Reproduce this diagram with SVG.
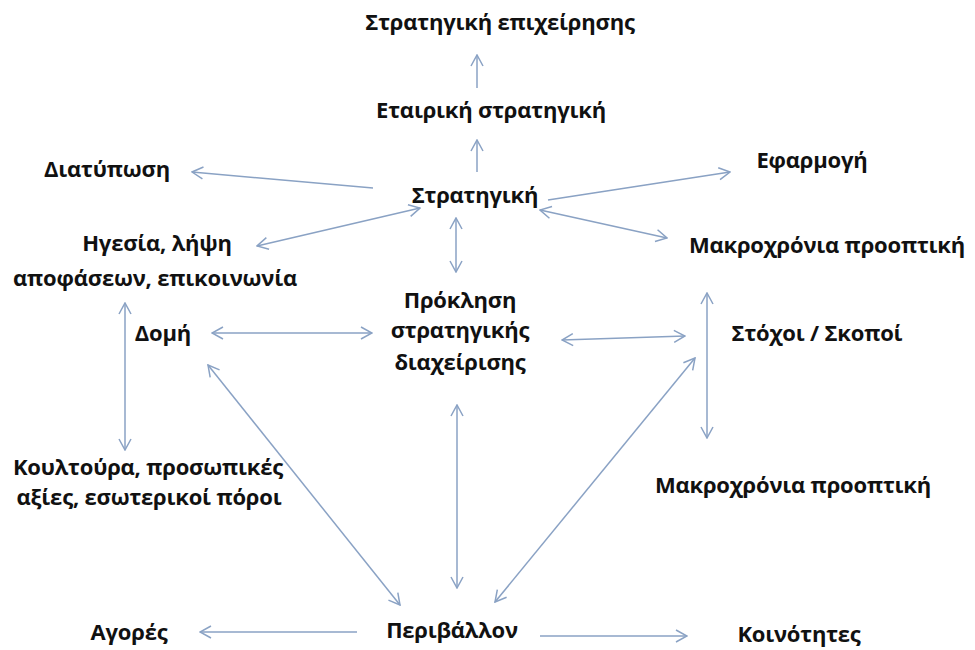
<svg xmlns="http://www.w3.org/2000/svg" width="975" height="650" viewBox="0 0 975 650">
<style>
text{font-family:"Open Sans","Noto Sans","Liberation Sans",sans-serif;font-weight:700;font-size:22px;fill:#111;text-anchor:middle;letter-spacing:-0.2px}
.c{stroke:#8aa2c4;stroke-width:1.5;fill:none;marker-end:url(#ah)}
.d{marker-start:url(#ah)}
</style>
<defs>
<marker id="ah" markerUnits="userSpaceOnUse" markerWidth="14" markerHeight="14" viewBox="0 0 14 14" refX="13" refY="7" orient="auto-start-reverse">
<path d="M2,1 L13,7 L2,13" fill="none" stroke="#8aa2c4" stroke-width="1.5"/>
</marker>
</defs>
<rect width="975" height="650" fill="#fff"/>
<g id="connectors">
<line class="c" x1="477" y1="88" x2="477" y2="55"/>
<line class="c" x1="477" y1="172" x2="477" y2="140"/>
<line class="c" x1="373" y1="188" x2="192" y2="172"/>
<line class="c d" x1="257" y1="246" x2="420" y2="208"/>
<line class="c" x1="548" y1="200" x2="730" y2="172"/>
<line class="c d" x1="540" y1="210" x2="667" y2="238"/>
<line class="c d" x1="456" y1="218" x2="456" y2="272"/>
<line class="c d" x1="212" y1="333" x2="372" y2="333"/>
<line class="c d" x1="125" y1="303" x2="125" y2="450"/>
<line class="c d" x1="562" y1="340" x2="685" y2="336"/>
<line class="c d" x1="707" y1="293" x2="707" y2="438"/>
<line class="c d" x1="208" y1="365" x2="400" y2="605"/>
<line class="c d" x1="695" y1="358" x2="495" y2="602"/>
<line class="c d" x1="457" y1="405" x2="457" y2="588"/>
<line class="c" x1="357" y1="632" x2="200" y2="632"/>
<line class="c" x1="540" y1="636" x2="687" y2="636"/>
</g>
<g id="n-epixeirisis"><text x="500" y="30">Στρατηγική επιχείρησης</text></g>
<g id="n-etairiki"><text x="491" y="118">Εταιρική στρατηγική</text></g>
<g id="n-stratigiki"><text x="475" y="203">Στρατηγική</text></g>
<g id="n-diatyposi"><text x="107" y="177">Διατύπωση</text></g>
<g id="n-efarmogi"><text x="812" y="168">Εφαρμογή</text></g>
<g id="n-igesia"><text x="157" y="251">Ηγεσία, λήψη</text><text x="155" y="286">αποφάσεων, επικοινωνία</text></g>
<g id="n-makro1"><text x="827" y="253">Μακροχρόνια προοπτική</text></g>
<g id="n-proklisi"><text x="460" y="308">Πρόκληση</text><text x="460" y="338">στρατηγικής</text><text x="460" y="370">διαχείρισης</text></g>
<g id="n-domi"><text x="163" y="341">Δομή</text></g>
<g id="n-stoxoi"><text x="817" y="341">Στόχοι / Σκοποί</text></g>
<g id="n-koultoura"><text x="148" y="475">Κουλτούρα, προσωπικές</text><text x="149" y="505">αξίες, εσωτερικοί πόροι</text></g>
<g id="n-makro2"><text x="793" y="493">Μακροχρόνια προοπτική</text></g>
<g id="n-agores"><text x="129" y="640">Αγορές</text></g>
<g id="n-perivallon"><text x="452" y="638">Περιβάλλον</text></g>
<g id="n-koinotites"><text x="799" y="642">Κοινότητες</text></g>
</svg>
